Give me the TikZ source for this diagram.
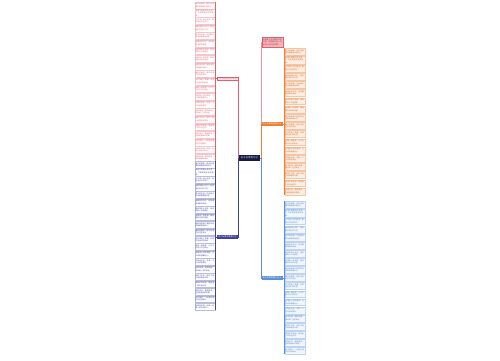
\documentclass[tikz,border=0pt]{standalone}
\usepackage{fontspec}
\newfontfamily\cjk{Noto Sans CJK SC}
\XeTeXlinebreaklocale "zh"
\XeTeXlinebreakskip = 0pt plus 1pt
\definecolor{redc}{RGB}{224,96,110}
\definecolor{navyb}{RGB}{64,64,160}
\definecolor{orangec}{RGB}{240,125,50}
\definecolor{blueb}{RGB}{90,145,220}
\definecolor{centerc}{RGB}{25,28,70}
\definecolor{pinkf}{RGB}{244,180,184}
\def\listA{真正的朋友，是在你需要时默默陪伴你的人。,友情不需要太多言语，一个眼神就能明白彼此。,人生得一知己足矣，斯世当以同怀视之。,朋友是路上的灯，照亮我们前行的方向。,真正的友谊，不会因为时间和距离而改变。,有朋友的日子，连风都是温柔的味道。,陪你笑的人很多，陪你哭的人才是朋友。,友情是一杯清茶，越品越有淡淡的清香。,朋友就是那个懂你所有沉默和眼泪的人。,最好的朋友，是吵过闹过依然在身边。,岁月带走了青春，却带不走我们的友谊。,感谢一路有你，让平凡的日子闪闪发光。,友谊是心灵的港湾，让人感到温暖安心。,不管走多远，总有一个人在原地等你。,相识是缘，相知是福，相伴是一生的幸运。,朋友不在多，而在于真心相待彼此珍惜。,愿我们的友谊，像星星一样永远闪亮。,你若安好，便是晴天，这就是朋友的祝福。,知己难寻，一旦遇见请好好珍惜彼此。,好朋友就是一起疯一起傻一起长大的人。,友情如酒，越陈越香，越久越醇厚绵长。}
\begin{document}
\begin{tikzpicture}[x=1pt,y=-1pt,
  leafbase/.style={line width=0.25pt, text width=19pt, inner sep=0.8pt, minimum height=6.8pt,
    align=left, font=\cjk\fontsize{1.75}{2.35}\selectfont},
  leafred/.style={leafbase, draw=redc!35, fill=white, text=redc, anchor=east},
  leafnavy/.style={leafbase, draw=navyb!35, fill=white, text=navyb, anchor=east},
  leaforange/.style={leafbase, draw=orangec!45, fill=orangec!14, text=orangec!85!black, anchor=west},
  leafblue/.style={leafbase, draw=blueb!40, fill=blueb!8, text=blueb!90!black, anchor=west},
  branch/.style={inner sep=0.6pt, minimum width=21pt, minimum height=3.4pt, text width=19.5pt, align=center,
    font=\cjk\fontsize{1.9}{2.2}\selectfont},
  conn/.style={line width=0.45pt}]
\useasboundingbox (0,0) rectangle (500,360);

% center
\node[branch, fill=centerc, text=white, minimum width=21pt, minimum height=5.5pt,
  font=\cjk\fontsize{2.2}{2.6}\selectfont] (C) at (249.5,158) {关于友情的句子};

% branch labels
\node[branch, fill=redc!15, draw=redc, line width=0.3pt, text=redc] (L1) at (227.5,78.5) {关于友情的句子大全};
\node[branch, fill=navyb, text=white] (L2) at (227.5,237) {关于友情的唯美句子};
\node[leafbase, fill=pinkf, draw=redc, text=redc!70!black, anchor=north west, minimum height=10pt,
  font=\cjk\fontsize{1.9}{2.6}\selectfont] (P) at (262,37) {友情是人生中最珍贵的财富，值得我们用一生去用心守护和珍藏。};
\node[branch, fill=orangec, text=white] (R1) at (272,124) {关于友情的经典句子};
\node[branch, fill=blueb, text=white] (R2) at (272,278) {关于友情的暖心句子};

% leaves: left top (red)
\foreach \t [count=\i from 0] in \listA {
  \node[leafred] (a\i) at (215.5,{5.5+7.6*\i}) {\t};
}
% leaves: left bottom (navy)
\foreach \t [count=\i from 0] in \listA {
  \ifnum\i<20 \node[leafnavy] (b\i) at (215.5,{165+7.45*\i}) {\t}; \fi
}
% leaves: right top (orange)
\foreach \t [count=\i from 0] in \listA {
  \ifnum\i<18 \node[leaforange] (c\i) at (284.5,{52+8.2*\i}) {\t}; \fi
}
% leaves: right bottom (blue)
\foreach \t [count=\i from 0] in \listA {
  \ifnum\i<19 \node[leafblue] (d\i) at (284.5,{205+8.1*\i}) {\t}; \fi
}

% column lines
\draw[conn, redc] (a0.north east) -- (a20.south east);
\draw[conn, redc] (L1.west) -- (L1.west -| a0.east);
\draw[conn, navyb] (b0.north east) -- (b19.south east);
\draw[conn, navyb] (L2.west) -- (L2.west -| b0.east);
\draw[conn, orangec] (c0.north west) -- (c17.south west);
\draw[conn, orangec] (R1.east) -- (R1.east -| c0.west);
\draw[conn, blueb] (d0.north west) -- (d18.south west);
\draw[conn, blueb] (R2.east) -- (R2.east -| d0.west);

% center connectors
\draw[conn, redc] (C.west) -- ++(-0.8,0) |- (L1.east);
\draw[conn, navyb] (C.west) -- ++(-0.8,0) |- (L2.east);
\draw[conn, redc!70] (C.east) -- ++(0.8,0) |- (P.west);
\draw[conn, orangec] (C.east) -- ++(0.8,0) |- (R1.west);
\draw[conn, blueb] (C.east) -- ++(0.8,0) |- (R2.west);
\end{tikzpicture}
\end{document}
